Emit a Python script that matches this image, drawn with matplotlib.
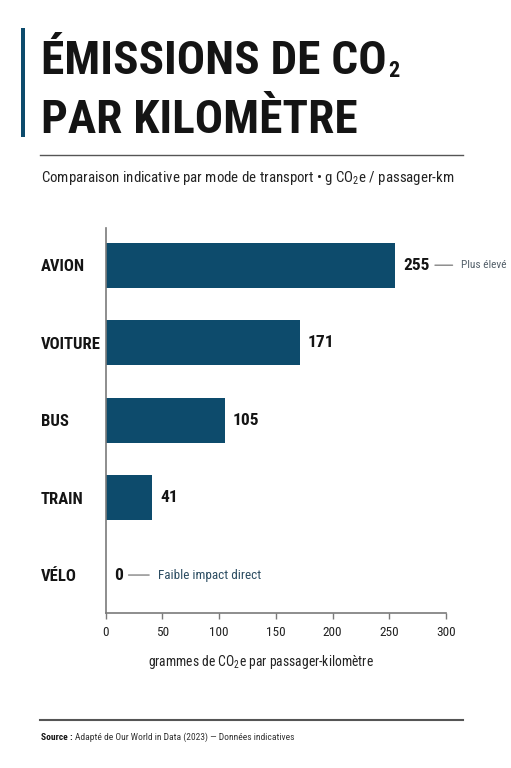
import matplotlib
matplotlib.use("Agg")
import matplotlib.pyplot as plt
from matplotlib.patches import Rectangle
from matplotlib.lines import Line2D

# ===== Données =====
modes = ["AVION", "VOITURE", "BUS", "TRAIN", "VÉLO"]
emissions = [255, 171, 105, 41, 0]
x_ticks = [0, 50, 100, 150, 200, 250, 300]
notes = {"AVION": "Plus élevé", "VÉLO": "Faible impact direct"}

BLEU = "#0d4b6c"
GRIS = "#7a7a7a"
ENCRE = "#141414"

# ===== Polices =====
COND = "Roboto Condensed"
plt.rcParams['font.family'] = [COND, 'DejaVu Sans']
plt.rcParams['mathtext.fontset'] = 'custom'
plt.rcParams['mathtext.rm'] = COND
plt.rcParams['mathtext.it'] = COND + ':italic'
plt.rcParams['mathtext.bf'] = COND + ':bold'

fig = plt.figure(figsize=(5.11, 7.68), dpi=100)
W, H = 511, 768
r = fig.canvas.get_renderer()

# ===== Titre =====
fig.add_artist(Rectangle((20.7 / W, 1 - 136.7 / H), 4.3 / W, 108.7 / H,
                         transform=fig.transFigure, color=BLEU, lw=0))
t1 = fig.text(40.7 / W, 1 - 74.3 / H, "ÉMISSIONS DE CO", fontsize=34,
              fontweight='bold', color=ENCRE, va='baseline')
bb = t1.get_window_extent(renderer=r)
fig.text(bb.x1 / W + 2 / W, 1 - 77.3 / H, "2", fontsize=16,
         fontweight='bold', color=ENCRE, va='baseline')
fig.text(40.7 / W, 1 - 133.3 / H, "PAR KILOMÈTRE", fontsize=34,
         fontweight='bold', color=ENCRE, va='baseline')
fig.add_artist(Line2D([40 / W, 463 / W], [1 - 155 / H] * 2, transform=fig.transFigure,
                      color="#555555", lw=1.0))
fig.text(40.7 / W, 1 - 181.7 / H,
         r"Comparaison indicative par mode de transport • g CO$_2$e / passager-km",
         fontsize=10.7, color="#222222", va='baseline')

# ===== Barres =====
ax = fig.add_axes([105.5 / W, 1 - 613 / H, (446 - 105.5) / W, (613 - 228) / H])
y = list(range(len(modes)))
ax.barh(y, emissions, height=0.58, color=BLEU)
ax.set_xlim(0, 300)
ax.set_ylim(4.49, -0.48)

ax.set_yticks(y)
ax.set_yticklabels(modes, fontsize=12, fontweight='bold', color=ENCRE)
ax.tick_params(axis='y', length=0, pad=46.7)
for lbl in ax.get_yticklabels():
    lbl.set_horizontalalignment('left')

ax.set_xticks(x_ticks)
ax.tick_params(axis='x', length=4, width=1, color=GRIS, labelsize=9.5,
               labelcolor="#222222", pad=5)
ax.set_xlabel(r"grammes de CO$_2$e par passager-kilomètre", fontsize=9.8,
              color="#222222", labelpad=11)
ax.xaxis.set_label_coords((261 - 105.5) / 340.5, -0.105)

for s in ("top", "right"):
    ax.spines[s].set_visible(False)
for s in ("left", "bottom"):
    ax.spines[s].set_color(GRIS)
    ax.spines[s].set_linewidth(1.2)

for i, (m, v) in enumerate(zip(modes, emissions)):
    off = 8 if v > 0 else 9
    ax.annotate(str(v), (v, i), xytext=(off, 0), textcoords='offset pixels',
                fontsize=12.5, fontweight='bold', color=ENCRE, va='center', ha='left')
    if m in notes:
        if v > 0:
            txt_off, line_start = 66, 40
            col, fs = "#55616b", 8.2
        else:
            txt_off, line_start = 52, 23
            col, fs = "#2c4d62", 9.5
        ax.annotate(notes[m], (v, i), xytext=(txt_off, 0), textcoords='offset pixels',
                    fontsize=fs, color=col, va='center', ha='left',
                    arrowprops=dict(arrowstyle='-', color="#777777", lw=0.9,
                                    relpos=(0, 0.5), shrinkA=4,
                                    shrinkB=line_start * 0.72))

# ===== Source =====
fig.add_artist(Line2D([40 / W, 463 / W], [1 - 720 / H] * 2, transform=fig.transFigure,
                      color="#555555", lw=1.5))
src = fig.text(40.7 / W, 1 - 740 / H, "Source :", fontsize=6.8, fontweight='bold',
               color=ENCRE, va='baseline')
bb = src.get_window_extent(renderer=r)
fig.text(bb.x1 / W + 3 / W, 1 - 740 / H,
         "Adapté de Our World in Data (2023) — Données indicatives",
         fontsize=6.8, color="#333333", va='baseline')

fig.savefig("out.png", dpi=100, facecolor="white")
